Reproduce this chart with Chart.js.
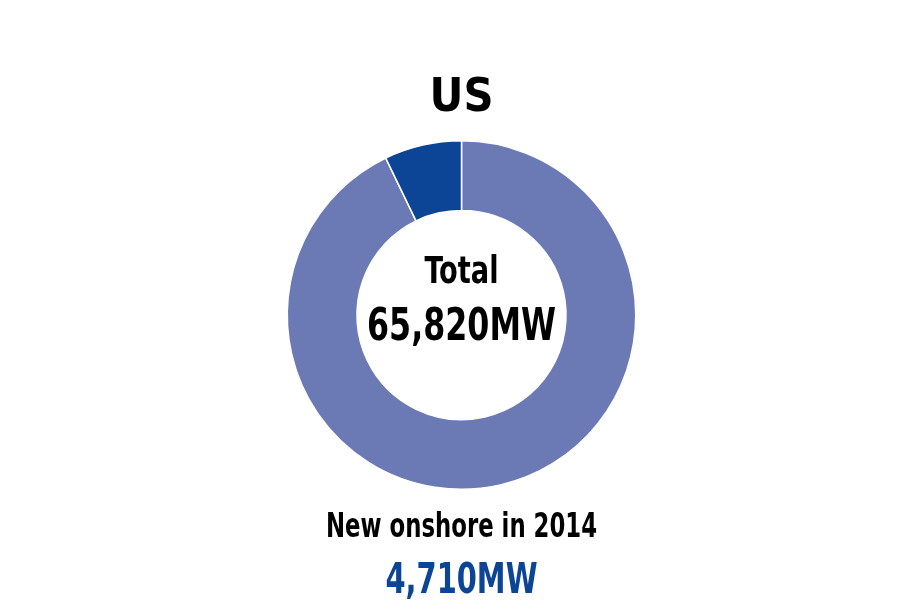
<!DOCTYPE html>
<html>
<head>
<meta charset="utf-8">
<script src="https://cdn.jsdelivr.net/npm/chart.js@4/dist/chart.umd.min.js"></script>
<style>
  html, body { margin: 0; padding: 0; background: #fff; }
  #wrap { width: 920px; height: 612px; }
</style>
</head>
<body>
<div id="wrap"><canvas id="us_chart" width="920" height="612"></canvas></div>
<script>
var labels = ["Existing onshore", "New onshore in 2014"];
var values = [61110, 4710];
var sliceColors = ["#6b7ab5", "#0c4596"];
var totalText = "65,820MW";
var newText = "4,710MW";

var narrow = '"DejaVu Sans Condensed", "DejaVu Sans", sans-serif';

// draw text squeezed to a given width (no narrow bold font available)
function fitText(ctx, text, x, y, width) {
  var w = ctx.measureText(text).width;
  ctx.save();
  ctx.translate(x, y);
  ctx.scale(Math.min(1, width / w), 1);
  ctx.fillText(text, 0, 0);
  ctx.restore();
}

var textPlugin = {
  id: "texts",
  afterDraw: function(chart) {
    var ctx = chart.ctx;
    var a = chart.chartArea;
    var cx = (a.left + a.right) / 2;
    var cy = (a.top + a.bottom) / 2;
    ctx.save();
    ctx.textAlign = "center";
    ctx.textBaseline = "alphabetic";

    ctx.fillStyle = "#000";
    ctx.font = 'bold 46px "DejaVu Sans", sans-serif';
    fitText(ctx, "US", cx, cy - 204, 64);

    ctx.font = "bold 37px " + narrow;
    fitText(ctx, "Total", cx, cy - 32, 74);
    ctx.font = "bold 45px " + narrow;
    fitText(ctx, totalText, cx, cy + 25, 189);

    ctx.font = "bold 34px " + narrow;
    fitText(ctx, "New onshore in 2014", cx, cy + 222, 271);
    ctx.fillStyle = "#0c4596";
    ctx.font = "bold 43px " + narrow;
    fitText(ctx, newText, cx, cy + 278, 152);
    ctx.restore();
  }
};

new Chart("us_chart", {
  type: "doughnut",
  data: {
    labels: labels,
    datasets: [{
      data: values,
      backgroundColor: sliceColors,
      borderColor: "#fff",
      borderWidth: 1.5
    }]
  },
  options: {
    responsive: false,
    animation: false,
    cutout: "60%",
    layout: { padding: { top: 140, bottom: 122, left: 3, right: 0 } },
    plugins: {
      legend: { display: false },
      tooltip: { enabled: false },
      title: { display: false }
    }
  },
  plugins: [textPlugin]
});
</script>
</body>
</html>
